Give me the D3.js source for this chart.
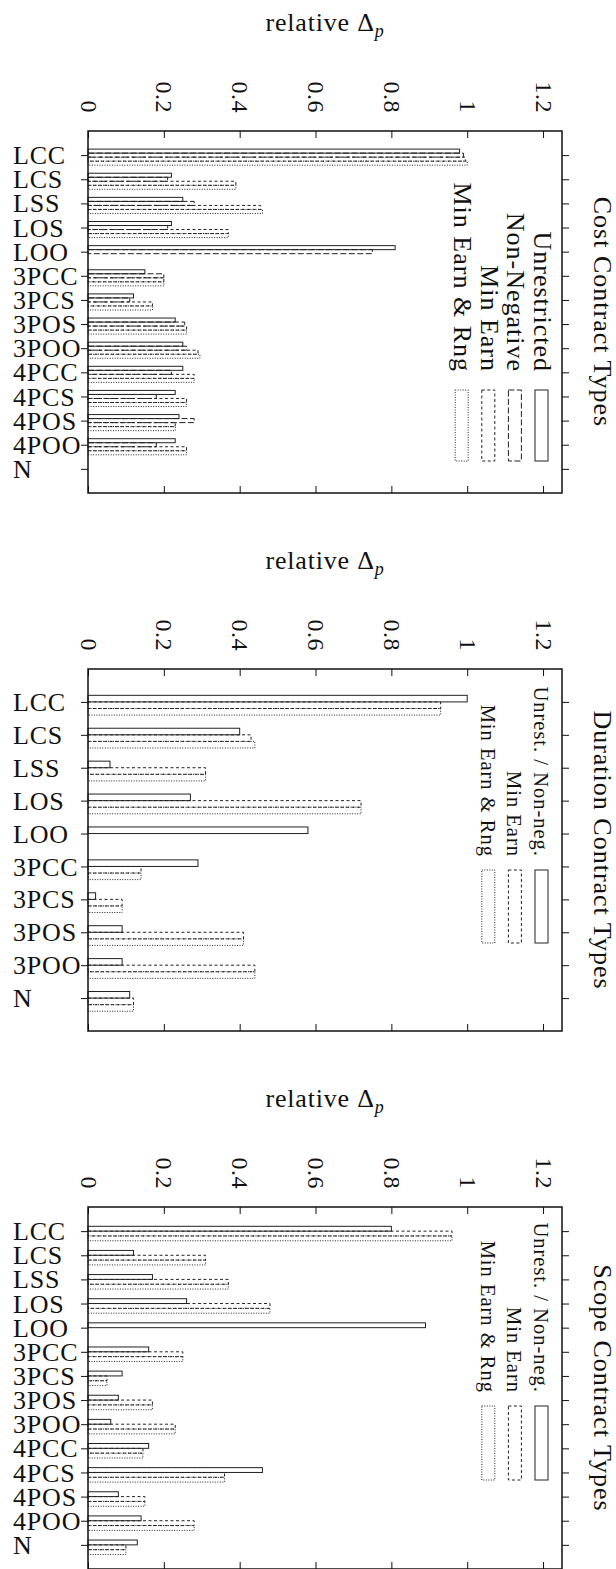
<!DOCTYPE html>
<html>
<head>
<meta charset="utf-8">
<script src="https://cdn.jsdelivr.net/npm/d3@7"></script>
<style>
  html, body { margin: 0; padding: 0; background: #fff; }
  svg { display: block; }
  text { font-family: "Liberation Serif", "DejaVu Serif", serif; fill: #111; }
</style>
</head>
<body>
<script>
// Relative Δp per contract type, three panels (Cost / Duration / Scope)

const valueTicks = [0, 0.2, 0.4, 0.6, 0.8, 1, 1.2];
const valueTickLabels = ["0", "0.2", "0.4", "0.6", "0.8", "1", "1.2"];
const axisTitle = "relative Δ";
const axisTitleSub = "p";

// Cost contract types
const costCategories = ["LCC", "LCS", "LSS", "LOS", "LOO", "3PCC", "3PCS", "3POS", "3POO", "4PCC", "4PCS", "4POS", "4POO", "N"];
const costSeriesNames = ["Unrestricted", "Non-Negative", "Min Earn", "Min Earn & Rng"];
const costUnrestricted = [0.98, 0.22, 0.25, 0.22, 0.81, 0.15, 0.12, 0.23, 0.25, 0.25, 0.23, 0.24, 0.23, null];
const costNonNegative  = [0.99, 0.21, 0.28, 0.21, 0.75, 0.20, 0.11, 0.255, 0.26, 0.22, 0.18, 0.28, 0.18, null];
const costMinEarn      = [0.995, 0.39, 0.455, 0.37, null, 0.20, 0.17, 0.26, 0.29, 0.28, 0.26, 0.23, 0.26, null];
const costMinEarnRng   = [1.0, 0.39, 0.46, 0.37, null, 0.20, 0.17, 0.26, 0.295, 0.28, 0.26, 0.23, 0.26, null];

// Duration contract types
const durationCategories = ["LCC", "LCS", "LSS", "LOS", "LOO", "3PCC", "3PCS", "3POS", "3POO", "N"];
const durationSeriesNames = ["Unrest. / Non-neg.", "Min Earn", "Min Earn & Rng"];
const durationUnrestNonneg = [1.0, 0.40, 0.058, 0.27, 0.58, 0.29, 0.02, 0.09, 0.09, 0.11];
const durationMinEarn      = [0.93, 0.43, 0.31, 0.72, null, 0.14, 0.09, 0.41, 0.44, 0.12];
const durationMinEarnRng   = [0.93, 0.44, 0.31, 0.72, null, 0.14, 0.09, 0.41, 0.44, 0.12];

// Scope contract types
const scopeCategories = ["LCC", "LCS", "LSS", "LOS", "LOO", "3PCC", "3PCS", "3POS", "3POO", "4PCC", "4PCS", "4POS", "4POO", "N"];
const scopeSeriesNames = ["Unrest. / Non-neg.", "Min Earn", "Min Earn & Rng"];
const scopeUnrestNonneg = [0.80, 0.12, 0.17, 0.26, 0.89, 0.16, 0.09, 0.08, 0.06, 0.16, 0.46, 0.08, 0.14, 0.13];
const scopeMinEarn      = [0.96, 0.31, 0.37, 0.48, null, 0.25, 0.05, 0.17, 0.23, 0.145, 0.36, 0.15, 0.28, 0.10];
const scopeMinEarnRng   = [0.96, 0.31, 0.37, 0.48, null, 0.25, 0.05, 0.17, 0.23, 0.145, 0.36, 0.15, 0.28, 0.10];

const W = 616, H = 1569;
const frameLeft = 88, frameRight = 562, frameHeight = 362;
const strokeSolid = null, strokeLong = "6,2.5", strokeShort = "3,2.5", strokeDot = "1,1.5";

const panels = [
  {
    title: "Cost Contract Types", cats: costCategories, names: costSeriesNames,
    series: [costUnrestricted, costNonNegative, costMinEarn, costMinEarnRng],
    dashes: [strokeSolid, strokeLong, strokeShort, strokeDot],
    top: 131, keyFont: 26, keyTextEnd: 241, keyBoxTop: 259, keyBoxBottom: 330
  },
  {
    title: "Duration Contract Types", cats: durationCategories, names: durationSeriesNames,
    series: [durationUnrestNonneg, durationMinEarn, durationMinEarnRng],
    dashes: [strokeSolid, strokeShort, strokeDot],
    top: 669, keyFont: 20.5, keyTextEnd: 188, keyBoxTop: 201, keyBoxBottom: 274
  },
  {
    title: "Scope Contract Types", cats: scopeCategories, names: scopeSeriesNames,
    series: [scopeUnrestNonneg, scopeMinEarn, scopeMinEarnRng],
    dashes: [strokeSolid, strokeShort, strokeDot],
    top: 1207, keyFont: 20.5, keyTextEnd: 186, keyBoxTop: 199, keyBoxBottom: 273
  }
];

const svg = d3.select("body").append("svg")
  .attr("width", W).attr("height", H)
  .attr("viewBox", `0 0 ${W} ${H}`);
svg.append("rect").attr("width", W).attr("height", H).attr("fill", "#fff");

const x = d3.scaleLinear().domain([0, 1.25]).range([frameLeft, frameRight]);

panels.forEach(p => {
  const top = p.top, bottom = top + frameHeight;
  const g = svg.append("g");
  const y = d3.scalePoint().domain(p.cats).range([top, bottom]).padding(1);
  const n = p.series.length;
  const slot = y.step() / (n + 2);

  // axis title above the value labels
  const t = g.append("text")
    .attr("x", (frameLeft + frameRight) / 2)
    .attr("y", top - 100)
    .attr("text-anchor", "middle")
    .attr("font-size", 26)
    .attr("letter-spacing", 0.8);
  t.append("tspan").text(axisTitle);
  t.append("tspan").attr("font-style", "italic").attr("font-size", 18)
    .attr("dy", 6).text(axisTitleSub);

  // value axis: top (labelled) and bottom, ticks pointing inwards
  const topAxis = g.append("g").attr("transform", `translate(0,${top})`)
    .call(d3.axisTop(x).tickValues(valueTicks).tickSize(-7)
      .tickFormat((d, i) => valueTickLabels[i]));
  topAxis.select(".domain").remove();
  topAxis.attr("font-family", null).attr("font-size", null);
  topAxis.selectAll("text")
    .attr("x", 0).attr("y", 0).attr("dy", "0.33em")
    .attr("transform", "translate(0,-18) rotate(90)")
    .attr("text-anchor", "end")
    .attr("font-size", 24)
    .attr("letter-spacing", 0.5)
    .attr("fill", "#111");

  const bottomAxis = g.append("g").attr("transform", `translate(0,${bottom})`)
    .call(d3.axisBottom(x).tickValues(valueTicks).tickSize(-7).tickFormat(""));
  bottomAxis.select(".domain").remove();

  // category axis: left (labelled) and right, ticks pointing outwards
  const leftAxis = g.append("g").attr("transform", `translate(${frameLeft},0)`)
    .call(d3.axisLeft(y).tickSize(7));
  leftAxis.select(".domain").remove();
  leftAxis.attr("font-family", null).attr("font-size", null);
  leftAxis.selectAll("text")
    .attr("x", 13 - frameLeft)
    .attr("dy", "0.33em")
    .attr("text-anchor", "start")
    .attr("font-size", 26)
    .attr("letter-spacing", 0.8)
    .attr("fill", "#111");

  const rightAxis = g.append("g").attr("transform", `translate(${frameRight},0)`)
    .call(d3.axisRight(y).tickSize(7).tickFormat(""));
  rightAxis.select(".domain").remove();

  g.selectAll(".tick line").attr("stroke", "#111").attr("stroke-width", 1);

  // clustered bars, drawn as empty outlined boxes
  p.series.forEach((vals, j) => {
    const off = (j + 0.5 - n / 2) * slot;
    g.append("g").selectAll("rect")
      .data(p.cats.map((c, i) => ({ c, v: vals[i] })).filter(d => d.v != null))
      .join("rect")
      .attr("x", x(0))
      .attr("y", d => y(d.c) + off)
      .attr("width", d => x(d.v) - x(0))
      .attr("height", slot)
      .attr("fill", "none")
      .attr("stroke", "#222")
      .attr("stroke-width", 1)
      .attr("stroke-dasharray", p.dashes[j]);
  });

  // frame
  g.append("rect")
    .attr("x", frameLeft).attr("y", top)
    .attr("width", frameRight - frameLeft).attr("height", frameHeight)
    .attr("fill", "none").attr("stroke", "#111").attr("stroke-width", 1.5);

  // key
  p.names.forEach((name, j) => {
    const bx = 535 - j * 26.6;
    g.append("text")
      .attr("transform", `translate(${bx - 1},${top + p.keyTextEnd}) rotate(90)`)
      .attr("text-anchor", "end")
      .attr("font-size", p.keyFont)
      .attr("letter-spacing", 1)
      .text(name);
    g.append("rect")
      .attr("x", bx).attr("y", top + p.keyBoxTop)
      .attr("width", 13).attr("height", p.keyBoxBottom - p.keyBoxTop)
      .attr("fill", "none").attr("stroke", "#222").attr("stroke-width", 1)
      .attr("stroke-dasharray", p.dashes[j]);
  });

  // panel title on the right
  g.append("text")
    .attr("transform", `translate(594,${(top + bottom) / 2}) rotate(90)`)
    .attr("text-anchor", "middle")
    .attr("font-size", 26)
    .attr("letter-spacing", 1)
    .text(p.title);
});
</script>
</body>
</html>
